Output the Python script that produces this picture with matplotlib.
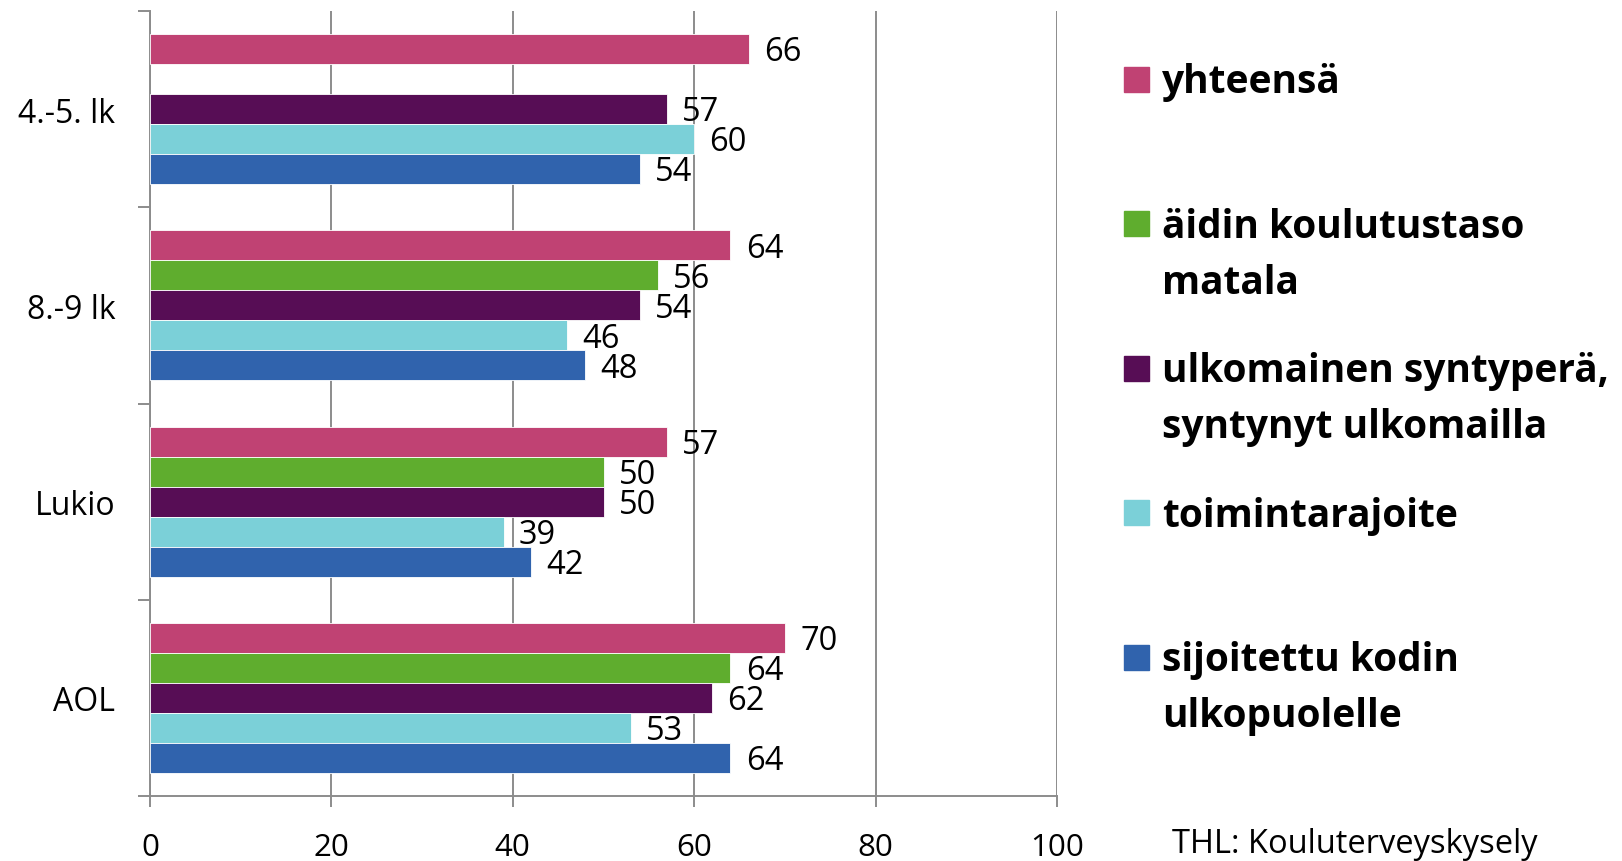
import numpy as np
import matplotlib
matplotlib.use("Agg")
import matplotlib.pyplot as plt
from matplotlib.patches import Rectangle

plt.rcParams['font.family'] = ['Open Sans', 'DejaVu Sans']

# Luokat (ylhäältä alas)
categories = ['4.-5. lk', '8.-9 lk', 'Lukio', 'AOL']

# Sarjat
series_names = ['yhteensä',
                'äidin koulutustaso\nmatala',
                'ulkomainen syntyperä,\nsyntynyt ulkomailla',
                'toimintarajoite',
                'sijoitettu kodin\nulkopuolelle']
series_colors = ['#C04273', '#5FAD2E', '#570D55', '#7BD0D8', '#3063AD']

yhteensa = [66, 64, 57, 70]
aidin_koulutus = [None, 56, 50, 64]
ulkomainen = [57, 54, 50, 62]
toimintarajoite = [60, 46, 39, 53]
sijoitettu = [54, 48, 42, 64]

series_values = [yhteensa, aidin_koulutus, ulkomainen, toimintarajoite, sijoitettu]

x_ticks = [0, 20, 40, 60, 80, 100]
source = 'THL: Kouluterveyskysely'

W, H = 1622, 862
fig = plt.figure(figsize=(W / 100, H / 100), dpi=100)
ax = fig.add_axes([150 / W, 65 / H, 907 / W, 785 / H])

bar_h = 0.153
y = np.arange(len(categories))
for k, (vals, col) in enumerate(zip(series_values, series_colors)):
    off = (k - 2) * bar_h
    for i, v in enumerate(vals):
        if v is None:
            continue
        ax.barh(y[i] + off, v, height=bar_h, color=col, edgecolor='white',
                linewidth=0.6, zorder=3)
        ax.annotate(str(v), (v, y[i] + off), xytext=(11, -2),
                    textcoords='offset points', va='center', ha='left',
                    fontsize=23.5, color='black', zorder=4)

ax.set_xlim(0, 100)
ax.set_ylim(len(categories) - 0.5, -0.5)
ax.set_xticks(x_ticks)
ax.set_xticklabels([str(t) for t in x_ticks], fontsize=22.5)
ax.set_yticks(y)
ax.set_yticklabels(categories, fontsize=23)
ax.set_yticks(np.arange(-0.5, len(categories), 1.0), minor=True)

ax.grid(axis='x', color='#8C8C8C', linewidth=1.4, zorder=0)
for s in ['top', 'right']:
    ax.spines[s].set_visible(False)
for s in ['left', 'bottom']:
    ax.spines[s].set_color('#8C8C8C')
    ax.spines[s].set_linewidth(1.4)

ax.tick_params(axis='y', which='major', length=0, pad=25)
ax.tick_params(axis='y', which='minor', length=9, width=1.4, color='#8C8C8C',
               direction='out')
ax.tick_params(axis='x', which='major', length=8, width=1.4, color='#8C8C8C',
               direction='out', pad=18)

# Selite käsin
legend_y = [80, 224, 369, 513, 658]
line_gap = 56
sq = 25
for name, col, ly in zip(series_names, series_colors, legend_y):
    fig.patches.append(Rectangle((1124 / W, (H - ly - sq / 2) / H), sq / W, sq / H,
                                 transform=fig.transFigure, color=col))
    for j, line in enumerate(name.split('\n')):
        fig.text(1162 / W, (H - ly - 3 - j * line_gap) / H, line, fontsize=28,
                 fontweight='bold', va='center', ha='left',
                 transform=fig.transFigure)

fig.text(1172 / W, (H - 845) / H, source, fontsize=23.5, va='center', ha='left')

fig.savefig('out.png', dpi=100)
